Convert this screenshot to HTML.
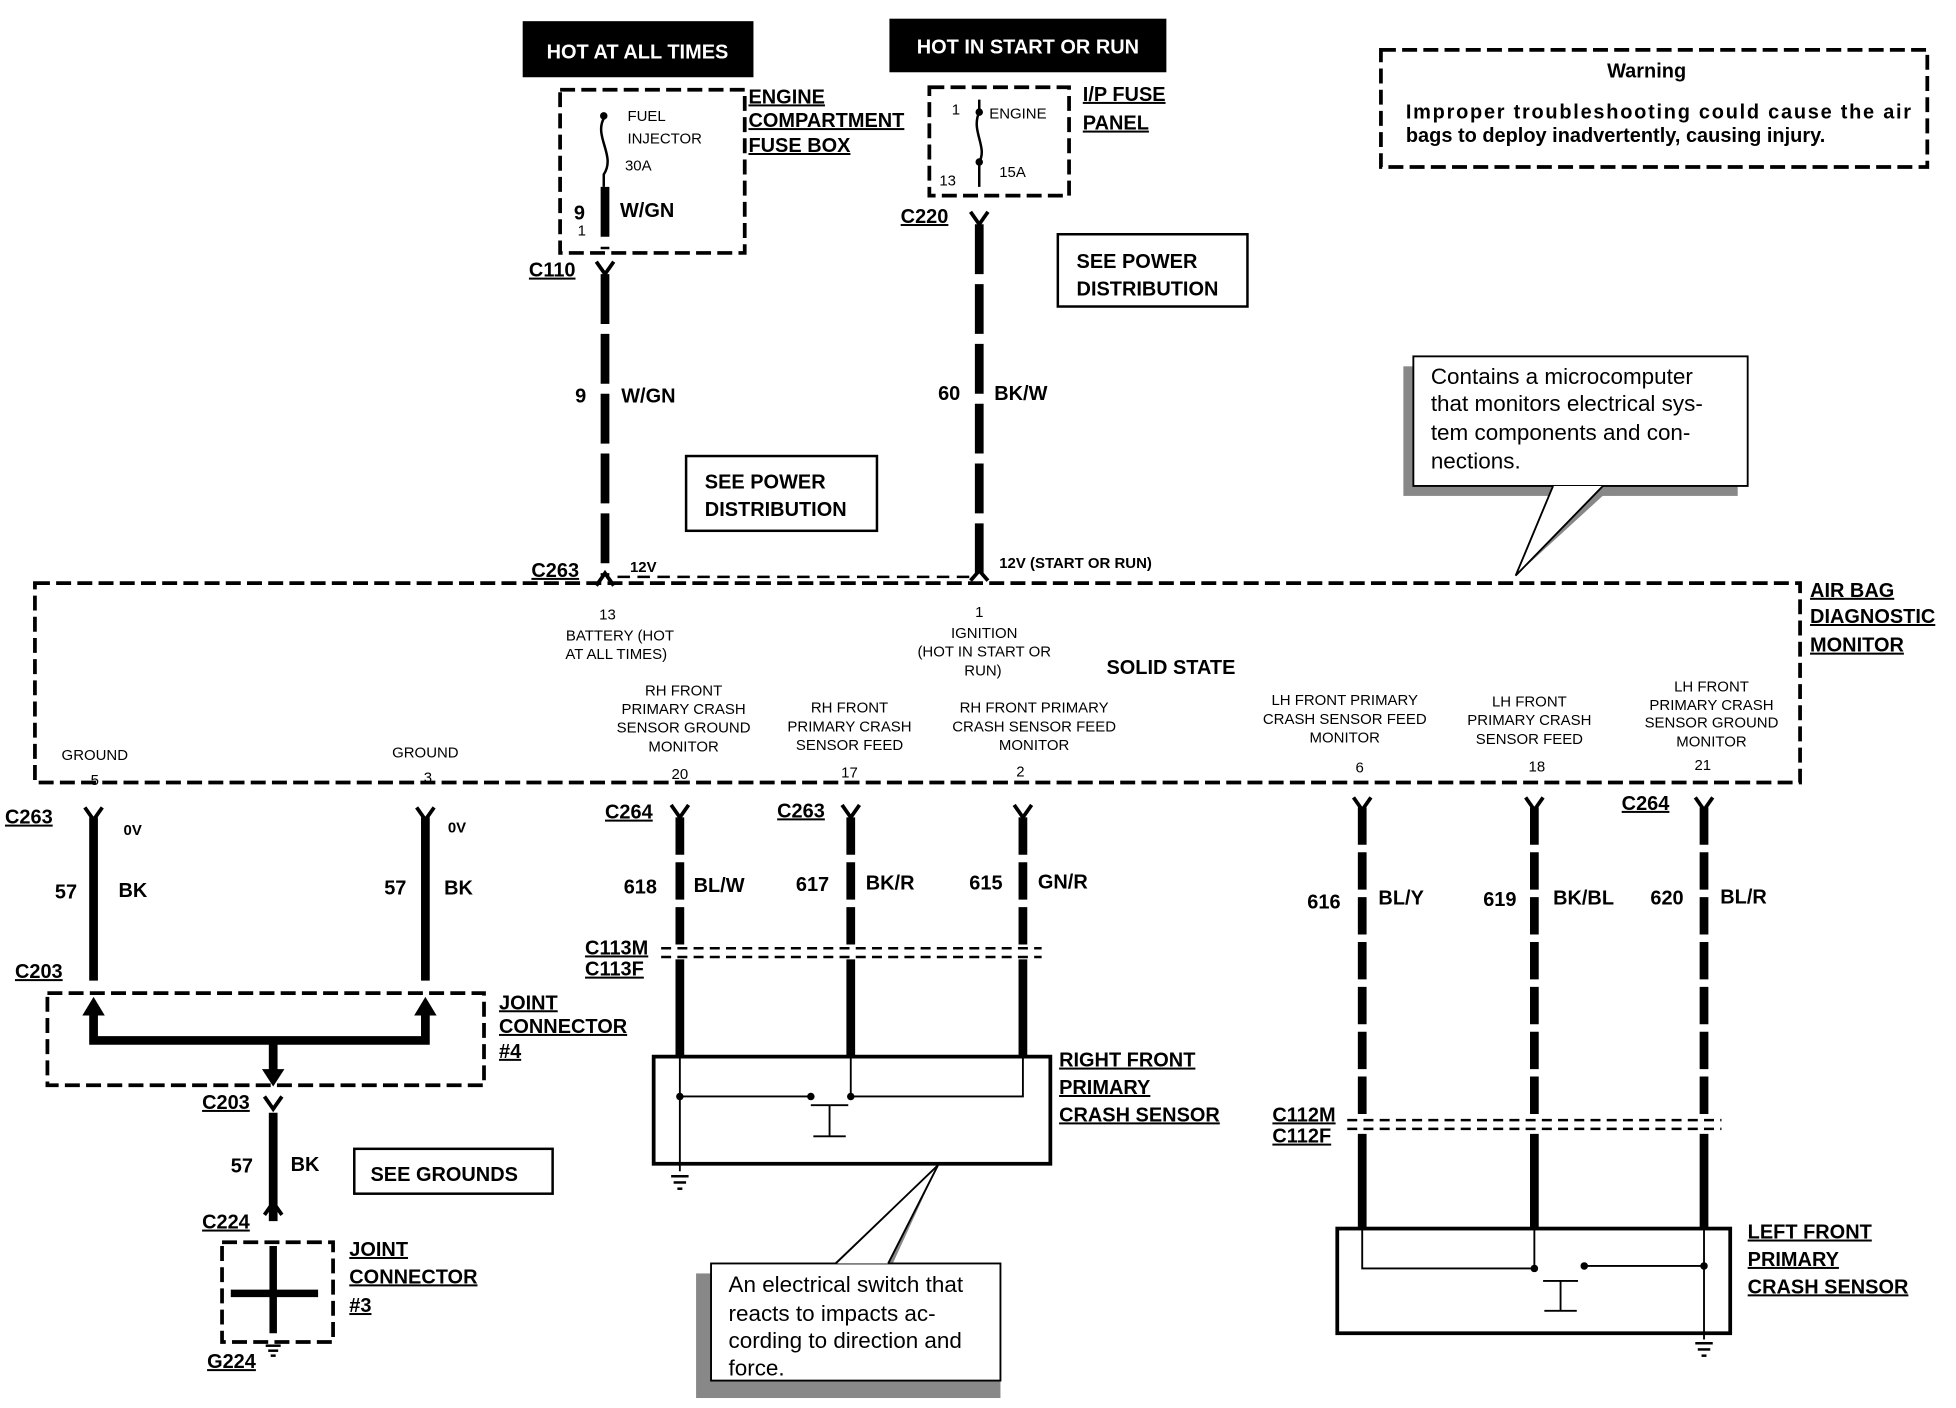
<!DOCTYPE html>
<html><head><meta charset="utf-8"><style>
html,body{margin:0;padding:0;background:#fff}
svg{display:block}
text{font-family:"Liberation Sans",sans-serif;fill:#000}
.b{font-weight:bold;font-size:16px}
.u{font-weight:bold;font-size:16px;text-decoration:underline}
.s{font-size:12px}
.m{font-size:18px}
</style></head><body>
<svg width="1956" height="1408" viewBox="0 0 1568 1130" preserveAspectRatio="none" xmlns="http://www.w3.org/2000/svg">
<rect width="1568" height="1130" fill="#fff"/>
<!-- header boxes -->
<rect x="419" y="17" width="185" height="45" fill="#000"/>
<text x="511" y="47" text-anchor="middle" class="b" style="fill:#fff">HOT AT ALL TIMES</text>
<rect x="713" y="15" width="222" height="43" fill="#000"/>
<text x="824" y="43" text-anchor="middle" class="b" style="fill:#fff">HOT IN START OR RUN</text>
<!-- fuse boxes -->
<g fill="none" stroke="#000" stroke-width="3" stroke-dasharray="12 5">
<rect x="449" y="72" width="148" height="131"/>
<rect x="745" y="70" width="112" height="87"/>
<rect x="1107" y="40" width="438" height="94"/>
<rect x="28" y="468" width="1415" height="160"/>
<rect x="38" y="797" width="350" height="74"/>
<rect x="178" y="997" width="89" height="80"/>
</g>
<text x="600" y="83" class="u">ENGINE</text>
<text x="600" y="102" class="u">COMPARTMENT</text>
<text x="600" y="122" class="u">FUSE BOX</text>
<text x="503" y="97" class="s">FUEL</text>
<text x="503" y="115" class="s">INJECTOR</text>
<text x="501" y="137" class="s">30A</text>
<path d="M484 95 C476 110,494 125,484 140 L484 150" fill="none" stroke="#000" stroke-width="2"/>
<circle cx="484" cy="93" r="3"/>
<text x="460" y="176" class="b">9</text><text x="463" y="189" class="s">1</text>
<text x="497" y="174" class="b">W/GN</text>
<text x="868" y="81" class="u">I/P FUSE</text>
<text x="868" y="104" class="u">PANEL</text>
<text x="793" y="95" class="s">ENGINE</text>
<text x="763" y="92" class="s">1</text>
<text x="753" y="149" class="s">13</text>
<text x="801" y="142" class="s">15A</text>
<path d="M785 80 L785 90 C778 105,792 118,785 130 L785 150" fill="none" stroke="#000" stroke-width="2"/>
<circle cx="785" cy="90" r="3"/><circle cx="785" cy="130" r="3"/>
<!-- upper wires -->
<g stroke="#000" stroke-width="7" stroke-dasharray="40 8">
<line x1="485" y1="150" x2="485" y2="200"/>
<line x1="485" y1="220" x2="485" y2="462"/>
<line x1="785" y1="180" x2="785" y2="462"/>
</g>
<g fill="none" stroke="#000" stroke-width="3">
<path d="M478 210 L485 220 L492 210"/>
<path d="M778 170 L785 180 L792 170"/>
<path d="M478 470 L485 460 L492 470"/>
<path d="M778 466 L785 458 L792 466"/>
</g>
<line x1="495" y1="463" x2="778" y2="463" stroke="#000" stroke-width="2" stroke-dasharray="10 6"/>
<text x="424" y="222" class="u">C110</text>
<text x="722" y="179" class="u">C220</text>
<text x="461" y="323" class="b">9</text><text x="498" y="323" class="b">W/GN</text>
<text x="752" y="321" class="b">60</text><text x="797" y="321" class="b">BK/W</text>
<text x="426" y="463" class="u">C263</text>
<text x="505" y="459" class="s" font-weight="bold">12V</text>
<text x="801" y="456" class="s" font-weight="bold">12V (START OR RUN)</text>
<!-- see power -->
<rect x="848" y="188" width="152" height="58" fill="#fff" stroke="#000" stroke-width="2"/>
<text x="863" y="215" class="b">SEE POWER</text><text x="863" y="237" class="b">DISTRIBUTION</text>
<rect x="550" y="366" width="153" height="60" fill="#fff" stroke="#000" stroke-width="2"/>
<text x="565" y="392" class="b">SEE POWER</text><text x="565" y="414" class="b">DISTRIBUTION</text>
<!-- warning -->
<text x="1320" y="62" text-anchor="middle" class="b">Warning</text>
<text x="1127" y="95" class="b" textLength="405">Improper troubleshooting could cause the air</text>
<text x="1127" y="114" class="b">bags to deploy inadvertently, causing injury.</text>
<!-- callout -->
<rect x="1125" y="294" width="268" height="104" fill="#888"/>
<polygon points="1255,384 1300,384 1215,462" fill="#888"/>
<rect x="1133" y="286" width="268" height="104" fill="#fff" stroke="#000" stroke-width="1.5"/>
<polyline points="1245,390 1215,462 1285,390" fill="#fff" stroke="#000" stroke-width="1.5"/>
<text x="1147" y="308" class="m">Contains a microcomputer</text>
<text x="1147" y="330" class="m">that monitors electrical sys-</text>
<text x="1147" y="353" class="m">tem components and con-</text>
<text x="1147" y="376" class="m">nections.</text>
<!-- monitor labels -->
<text x="1451" y="479" class="u">AIR BAG</text>
<text x="1451" y="500" class="u">DIAGNOSTIC</text>
<text x="1451" y="523" class="u">MONITOR</text>
<g class="s" text-anchor="middle">
<text x="487" y="497">13</text><text x="497" y="514">BATTERY (HOT</text><text x="494" y="529">AT ALL TIMES)</text>
<text x="785" y="495">1</text><text x="789" y="512">IGNITION</text><text x="789" y="527">(HOT IN  START OR</text><text x="788" y="542">RUN)</text>
<text x="548" y="558">RH FRONT</text><text x="548" y="573">PRIMARY CRASH</text><text x="548" y="588">SENSOR GROUND</text><text x="548" y="603">MONITOR</text><text x="545" y="625">20</text>
<text x="681" y="572">RH FRONT</text><text x="681" y="587">PRIMARY CRASH</text><text x="681" y="602">SENSOR FEED</text><text x="681" y="624">17</text>
<text x="829" y="572">RH FRONT PRIMARY</text><text x="829" y="587">CRASH SENSOR FEED</text><text x="829" y="602">MONITOR</text><text x="818" y="623">2</text>
<text x="1078" y="566">LH FRONT PRIMARY</text><text x="1078" y="581">CRASH SENSOR FEED</text><text x="1078" y="596">MONITOR</text><text x="1090" y="620">6</text>
<text x="1226" y="567">LH FRONT</text><text x="1226" y="582">PRIMARY CRASH</text><text x="1226" y="597">SENSOR FEED</text><text x="1232" y="619">18</text>
<text x="1372" y="555">LH FRONT</text><text x="1372" y="570">PRIMARY CRASH</text><text x="1372" y="584">SENSOR  GROUND</text><text x="1372" y="599">MONITOR</text><text x="1365" y="618">21</text>
<text x="76" y="610">GROUND</text><text x="76" y="630">5</text>
<text x="341" y="608">GROUND</text><text x="343" y="628">3</text>
</g>
<text x="887" y="541" class="b">SOLID STATE</text>
<!-- lower wires -->
<g stroke="#000" stroke-width="7">
<line x1="75" y1="656" x2="75" y2="787"/>
<line x1="341" y1="656" x2="341" y2="787"/>
<line x1="219" y1="893" x2="219" y2="980"/>
<line x1="545" y1="770" x2="545" y2="848"/>
<line x1="682" y1="770" x2="682" y2="848"/>
<line x1="820" y1="770" x2="820" y2="848"/>
<line x1="1092" y1="910" x2="1092" y2="986"/>
<line x1="1230" y1="910" x2="1230" y2="986"/>
<line x1="1366" y1="910" x2="1366" y2="986"/>
</g>
<g stroke="#000" stroke-width="7" stroke-dasharray="30 6">
<line x1="545" y1="656" x2="545" y2="760"/>
<line x1="682" y1="656" x2="682" y2="760"/>
<line x1="820" y1="656" x2="820" y2="760"/>
<line x1="1092" y1="648" x2="1092" y2="898"/>
<line x1="1230" y1="648" x2="1230" y2="898"/>
<line x1="1366" y1="648" x2="1366" y2="898"/>
</g>
<g fill="none" stroke="#000" stroke-width="3">
<path d="M68 648 L75 658 L82 648"/><path d="M334 648 L341 658 L348 648"/>
<path d="M538 646 L545 656 L552 646"/><path d="M675 646 L682 656 L689 646"/><path d="M813 646 L820 656 L827 646"/>
<path d="M1085 640 L1092 650 L1099 640"/><path d="M1223 640 L1230 650 L1237 640"/><path d="M1359 640 L1366 650 L1373 640"/>
<path d="M212 880 L219 890 L226 880"/><path d="M212 975 L219 965 L226 975"/>
</g>
<g stroke="#000" stroke-width="2" stroke-dasharray="8 5">
<line x1="530" y1="761" x2="835" y2="761"/><line x1="530" y1="768" x2="835" y2="768"/>
<line x1="1080" y1="899" x2="1380" y2="899"/><line x1="1080" y1="906" x2="1380" y2="906"/>
</g>
<g class="b">
<text x="99" y="670" class="s" font-weight="bold">0V</text><text x="359" y="668" class="s" font-weight="bold">0V</text>
<text x="44" y="721">57</text><text x="95" y="720">BK</text>
<text x="308" y="718">57</text><text x="356" y="718">BK</text>
<text x="500" y="717">618</text><text x="556" y="716">BL/W</text>
<text x="638" y="715">617</text><text x="694" y="714">BK/R</text>
<text x="777" y="714">615</text><text x="832" y="713">GN/R</text>
<text x="1048" y="729">616</text><text x="1105" y="726">BL/Y</text>
<text x="1189" y="727">619</text><text x="1245" y="726">BK/BL</text>
<text x="1323" y="726">620</text><text x="1379" y="725">BL/R</text>
<text x="185" y="941">57</text><text x="233" y="940">BK</text>
</g>
<g class="u">
<text x="4" y="661">C263</text><text x="485" y="657">C264</text><text x="623" y="656">C263</text><text x="1300" y="650">C264</text>
<text x="12" y="785">C203</text><text x="162" y="890">C203</text><text x="162" y="986">C224</text><text x="166" y="1098">G224</text>
<text x="469" y="766">C113M</text><text x="469" y="783">C113F</text>
<text x="1020" y="900">C112M</text><text x="1020" y="917">C112F</text>
<text x="400" y="810">JOINT</text><text x="400" y="829">CONNECTOR</text><text x="400" y="849">#4</text>
<text x="280" y="1008">JOINT</text><text x="280" y="1030">CONNECTOR</text><text x="280" y="1053">#3</text>
<text x="849" y="856">RIGHT FRONT</text><text x="849" y="878">PRIMARY</text><text x="849" y="900">CRASH SENSOR</text>
<text x="1401" y="994">LEFT FRONT</text><text x="1401" y="1016">PRIMARY</text><text x="1401" y="1038">CRASH SENSOR</text>
</g>
<!-- joint connector 4 -->
<g stroke="#000" stroke-width="7" fill="none">
<path d="M75 810 L75 835 L341 835 L341 810"/>
<line x1="219" y1="835" x2="219" y2="860"/>
</g>
<polygon points="66,815 84,815 75,800" fill="#000"/><polygon points="332,815 350,815 341,800"/>
<polygon points="210,858 228,858 219,872"/>
<!-- joint connector 3 -->
<g stroke="#000" stroke-width="6"><line x1="219" y1="1000" x2="219" y2="1070"/><line x1="185" y1="1038" x2="255" y2="1038"/></g>
<g stroke="#000" stroke-width="2"><line x1="213" y1="1080" x2="225" y2="1080"/><line x1="215" y1="1084" x2="223" y2="1084"/><line x1="217" y1="1088" x2="221" y2="1088"/></g>
<rect x="284" y="922" width="159" height="36" fill="#fff" stroke="#000" stroke-width="2"/>
<text x="297" y="948" class="b">SEE GROUNDS</text>
<!-- right front sensor -->
<rect x="524" y="848" width="318" height="86" fill="#fff" stroke="#000" stroke-width="3"/>
<g stroke="#000" stroke-width="1.5" fill="none">
<polyline points="545,848 545,940"/><polyline points="545,880 650,880"/>
<polyline points="682,848 682,880 820,880 820,848"/>
<line x1="650" y1="887" x2="680" y2="887"/><line x1="665" y1="887" x2="665" y2="912"/><line x1="652" y1="912" x2="678" y2="912"/>
</g>
<circle cx="545" cy="880" r="3"/><circle cx="650" cy="880" r="3"/><circle cx="682" cy="880" r="3"/>
<g stroke="#000" stroke-width="2"><line x1="538" y1="944" x2="552" y2="944"/><line x1="540" y1="949" x2="550" y2="949"/><line x1="543" y1="954" x2="547" y2="954"/></g>
<!-- left front sensor -->
<rect x="1072" y="986" width="315" height="84" fill="#fff" stroke="#000" stroke-width="3"/>
<g stroke="#000" stroke-width="1.5" fill="none">
<polyline points="1092,986 1092,1018 1230,1018 1230,986"/>
<polyline points="1366,986 1366,1075"/><polyline points="1270,1016 1366,1016"/>
<line x1="1237" y1="1028" x2="1265" y2="1028"/><line x1="1251" y1="1028" x2="1251" y2="1052"/><line x1="1238" y1="1052" x2="1264" y2="1052"/>
</g>
<circle cx="1230" cy="1018" r="3"/><circle cx="1270" cy="1016" r="3"/><circle cx="1366" cy="1016" r="3"/>
<g stroke="#000" stroke-width="2"><line x1="1359" y1="1078" x2="1373" y2="1078"/><line x1="1361" y1="1083" x2="1371" y2="1083"/><line x1="1364" y1="1088" x2="1368" y2="1088"/></g>
<!-- callout bottom -->
<rect x="558" y="1022" width="244" height="100" fill="#888"/>
<polygon points="660,1022 752,935 712,1022" fill="#888"/>
<rect x="570" y="1014" width="232" height="94" fill="#fff" stroke="#000" stroke-width="1.5"/>
<polyline points="670,1014 752,935 712,1014" fill="#fff" stroke="#000" stroke-width="1.5"/>
<text x="584" y="1037" class="m">An electrical switch that</text>
<text x="584" y="1060" class="m">reacts to impacts ac-</text>
<text x="584" y="1082" class="m">cording to direction and</text>
<text x="584" y="1104" class="m">force.</text>
</svg>
</body></html>
